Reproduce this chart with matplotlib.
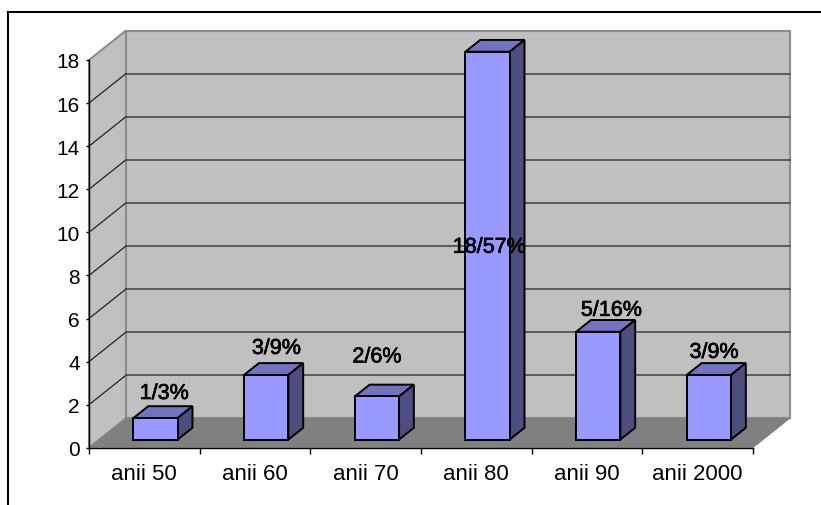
import matplotlib
matplotlib.use("Agg")
import matplotlib.pyplot as plt
from matplotlib.patches import Polygon
import matplotlib.patheffects as pe

categories = ["anii 50", "anii 60", "anii 70", "anii 80", "anii 90", "anii 2000"]
values = [1, 3, 2, 18, 5, 3]
bar_labels = ["1/3%", "3/9%", "2/6%", "18/57%", "5/16%", "3/9%"]
y_ticks = [0, 2, 4, 6, 8, 10, 12, 14, 16, 18]

# hand placed label nudges, pixels from the top middle of each bar front
label_dx = [8.5, 10, 0, 1.5, 13, 5]
label_dy = [24.5, 26.5, 39.5, -195.5, 21.5, 22.5]

W, H = 821, 506
WALL = "#C0C0C0"
FLOOR = "#808080"
EDGE = "#8C8C8C"
BAR = "#9999FF"
BAR_TOP = "#7373BF"
BAR_SIDE = "#4D4D80"

# front plane of the fake 3d box, in pixels
LEFT, RIGHT, TOP, BOTTOM = 89, 753, 61, 448.8

plt.rcParams["font.family"] = ["Liberation Sans", "DejaVu Sans"]
fig = plt.figure(figsize=(W / 100, H / 100), dpi=100, facecolor="white")
ax = fig.add_axes([LEFT / W, 1 - BOTTOM / H, (RIGHT - LEFT) / W, (BOTTOM - TOP) / H])
ax.set_xlim(0, len(categories))
ax.set_ylim(0, 18)
ax.patch.set_visible(False)

# depth vector, one full unit of depth expressed in data units
DX = 37 / ((RIGHT - LEFT) / len(categories))
DY = 29.5 / ((BOTTOM - TOP) / 18)


def proj(x, y, d=0.0):
    return (x + d * DX, y + d * DY)


def face(pts, fc, ec, lw, z):
    ax.add_patch(Polygon(pts, closed=True, facecolor=fc, edgecolor=ec, lw=lw,
                         joinstyle="miter", clip_on=False, zorder=z))


n = len(categories)
# walls and floor
face([proj(0, 0), proj(0, 18), proj(0, 18, 1), proj(0, 0, 1)], WALL, EDGE, 1.5, 1)
face([proj(0, 0, 1), proj(0, 18, 1), proj(n, 18, 1), proj(n, 0, 1)], WALL, EDGE, 1.5, 1)
face([proj(0, 0), proj(n, 0), proj(n, 0, 1), proj(0, 0, 1)], FLOOR, FLOOR, 0.5, 2)

# gridlines running along side wall and back wall
for t in y_ticks[1:-1]:
    xs, ys = zip(proj(0, t), proj(0, t, 1))
    ax.plot(xs, ys, color="#222222", lw=0.9, clip_on=False, zorder=3)
    xs, ys = zip(proj(0, t, 1), proj(n, t, 1))
    ax.plot(xs, ys, color="#404040", lw=1.1, clip_on=False, zorder=3)

# bars, front face through ax.bar, shifted into the box
d0, d1 = 0.28, 0.68
bw = 0.40
xpos = [i + 0.5 for i in range(n)]
sx, sy = proj(0, 0, d0)
sx += 0.008
ax.bar([x + sx for x in xpos], values, width=bw, bottom=sy, color=BAR,
       edgecolor="black", lw=1.4, zorder=6, clip_on=False)
dd = d1 - d0
for x, v, lab, ldx, ldy in zip(xpos, values, bar_labels, label_dx, label_dy):
    x0 = x + sx - bw / 2
    x1 = x + sx + bw / 2
    y0 = sy
    y1 = sy + v
    face([(x0, y1), (x1, y1), proj(x1, y1, dd), proj(x0, y1, dd)], BAR_TOP, "black", 1.4, 5)
    face([(x1, y0), (x1, y1), proj(x1, y1, dd), proj(x1, y0, dd)], BAR_SIDE, "black", 1.4, 5)
    ax.annotate(lab, (x + sx, y1), xytext=(ldx, ldy), textcoords="offset pixels",
                ha="center", va="center", fontsize=15.5, color="black",
                path_effects=[pe.withStroke(linewidth=0.5, foreground="black")],
                annotation_clip=False, zorder=8)

# axes
ax.set_xticks(range(n + 1))
ax.set_xticklabels([])
ax.set_yticks(y_ticks)
ax.tick_params(axis="y", length=2.5, width=1, labelsize=15, pad=4, colors="black")
ax.tick_params(axis="x", length=4.3, width=1, direction="out")
for s in ["top", "right"]:
    ax.spines[s].set_visible(False)
for s in ["left", "bottom"]:
    ax.spines[s].set_linewidth(1)
    ax.spines[s].set_zorder(4)
for x, c in zip(xpos, categories):
    ax.annotate(c, (x, 0), xytext=(0, -26), textcoords="offset pixels", ha="center", va="center",
                fontsize=16, color="black", annotation_clip=False)

# outer chart frame, only left and top are in the crop
fig.add_artist(plt.Line2D([8 / W, 8 / W], [0, 1 - 12.5 / H], color="black", lw=1.5))
fig.add_artist(plt.Line2D([8 / W, 1], [1 - 12.5 / H, 1 - 12.5 / H], color="black", lw=1.5))

fig.savefig("out.png", dpi=100, facecolor="white")
